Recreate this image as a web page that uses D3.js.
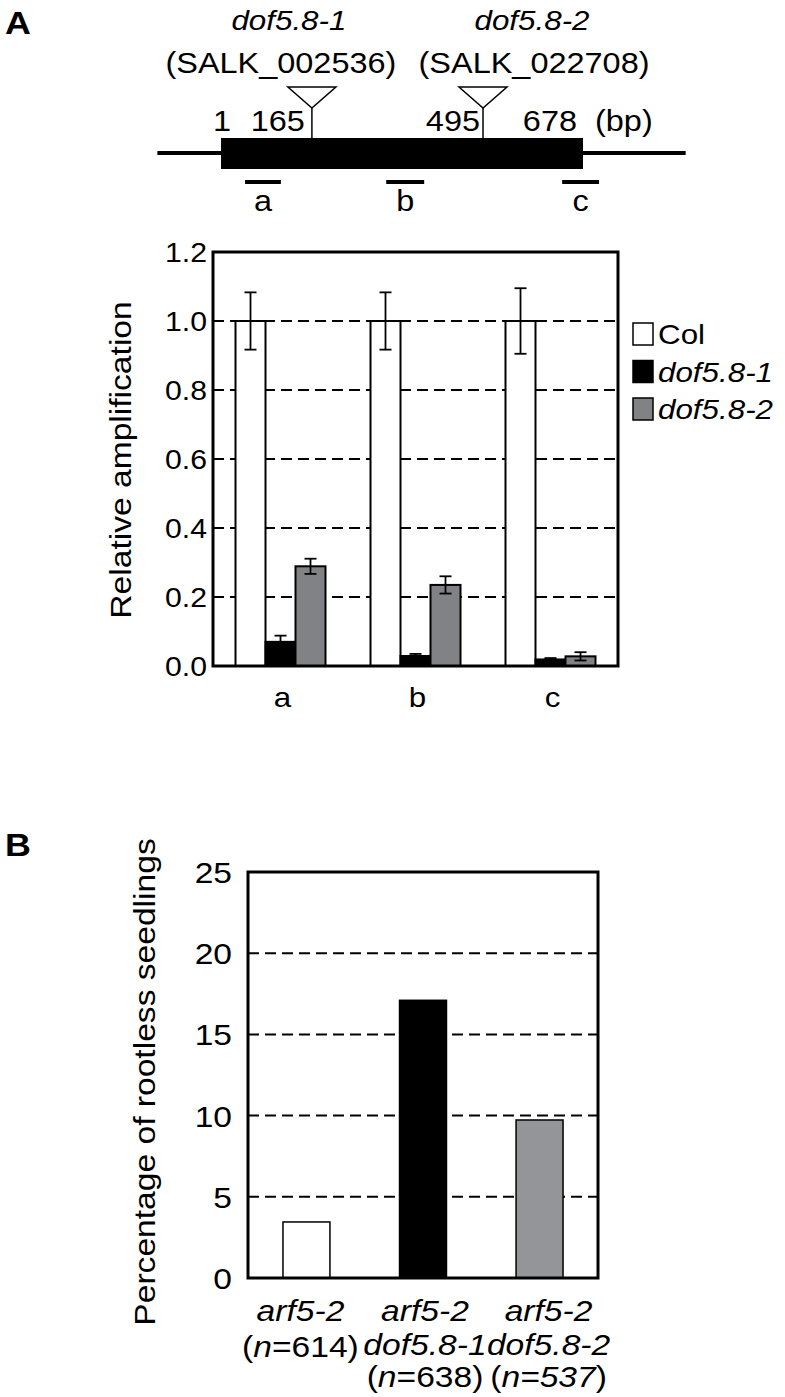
<!DOCTYPE html>
<html>
<head>
<meta charset="utf-8">
<script src="https://d3js.org/d3.v7.min.js"></script>
<style>
  body { margin: 0; background: #fff; }
  svg { display: block; }
  text { font-family: "Liberation Sans", Arial, Helvetica, sans-serif; fill: #000; }
</style>
</head>
<body>
<div id="app"></div>
<script>
// ---- data ----
const primers = ["a", "b", "c"];
const genotypesA = ["Col", "dof5.8-1", "dof5.8-2"];
const colMean = [1.0, 1.0, 1.0];
const colErr = [0.083, 0.083, 0.095];
const dof1Mean = [0.070, 0.029, 0.019];
const dof1Err = [0.018, 0.006, 0.004];
const dof2Mean = [0.289, 0.235, 0.028];
const dof2Err = [0.022, 0.025, 0.012];
const ticksA = [0, 0.2, 0.4, 0.6, 0.8, 1.0, 1.2];

const genotypesB = ["arf5-2", "arf5-2 dof5.8-1", "arf5-2 dof5.8-2"];
const nB = [614, 638, 537];
const rootless = [3.45, 17.1, 9.73];
const ticksB = [0, 5, 10, 15, 20, 25];

// gene model (bp)
const geneStart = 1, geneEnd = 678;
const insertions = [171, 491];
const insertionNames = ["dof5.8-1", "dof5.8-2"];
const insertionLines = ["SALK_002536", "SALK_022708"];
const primerSpans = [[46, 113], [310, 381], [639, 708]];

const colors = { "Col": "#fff", "dof5.8-1": "#000", "dof5.8-2": "#808285" };
const colorsB = ["#fff", "#000", "#939598"];
const SX = 1.12; // glyphs in the figure are a bit wider than Arial

const svg = d3.select("#app").append("svg")
    .attr("width", 785).attr("height", 1397);

// text helper: parts = [[string, italic, bold], ...]
function label(x, y, parts, size, anchor, rotate) {
    const g = svg.append("g")
        .attr("transform", rotate
            ? `translate(${x},${y}) rotate(-90) scale(${SX},1)`
            : `translate(${x},${y}) scale(${SX},1)`);
    const t = g.append("text")
        .attr("font-size", size)
        .attr("text-anchor", anchor || "middle");
    if (typeof parts === "string") parts = [[parts, false]];
    parts.forEach(p => t.append("tspan").text(p[0])
        .attr("font-style", p[1] ? "italic" : "normal")
        .attr("font-weight", p[2] ? "bold" : "normal"));
    return t;
}

// ---- panel letters ----
label(5, 34, [["A", false, true]], 32, "start");
label(5, 856, [["B", false, true]], 32, "start");

// ---- gene model ----
const gx = d3.scaleLinear().domain([geneStart, geneEnd]).range([221, 583]);
svg.append("line").attr("x1", gx(-118)).attr("x2", gx(870))
    .attr("y1", 153).attr("y2", 153).attr("stroke", "#000").attr("stroke-width", 4);
svg.append("rect").attr("x", gx(geneStart)).attr("y", 138)
    .attr("width", gx(geneEnd) - gx(geneStart)).attr("height", 31).attr("fill", "#000");

const nameShift = [-23, 49], lineShift = [-31, 51];
insertions.forEach((bp, i) => {
    const x = gx(bp);
    svg.append("line").attr("x1", x).attr("x2", x).attr("y1", 108).attr("y2", 138)
        .attr("stroke", "#000").attr("stroke-width", 1.5);
    svg.append("path")
        .attr("d", `M${x - 24},87 L${x + 24},87 L${x},108 Z`)
        .attr("fill", "#fff").attr("stroke", "#000").attr("stroke-width", 1.5);
    label(x + nameShift[i], 30, [[insertionNames[i], true]], 28, "middle");
    label(x + lineShift[i], 73, "(" + insertionLines[i] + ")", 29, "middle");
});

label(gx(1) + 1, 131, "1", 29, "middle");
label(gx(insertions[0]) - 7, 131, "165", 29, "end");
label(gx(insertions[1]) - 3, 131, "495", 29, "end");
label(gx(geneEnd) - 6, 131, "678", 29, "end");
label(gx(geneEnd) + 12, 131, "(bp)", 29, "start");

primerSpans.forEach((s, i) => {
    svg.append("line").attr("x1", gx(s[0])).attr("x2", gx(s[1]))
        .attr("y1", 182).attr("y2", 182).attr("stroke", "#000").attr("stroke-width", 4);
    label((gx(s[0]) + gx(s[1])) / 2, 211, primers[i], 29, "middle");
});

// ---- panel A chart ----
const A = { l: 213, r: 618, t: 252, b: 666 };
const yA = d3.scaleLinear().domain([0, 1.2]).range([A.b, A.t]);
const x0 = d3.scaleBand().domain(primers).range([A.l, A.r])
    .paddingInner(1 / 3).paddingOuter(1 / 6);
const x1 = d3.scaleBand().domain(genotypesA).range([0, x0.bandwidth()]);

const gA = svg.append("g");
gA.selectAll("line.grid").data(ticksA.slice(1, -1)).enter().append("line")
    .attr("x1", A.l).attr("x2", A.r)
    .attr("y1", d => yA(d)).attr("y2", d => yA(d))
    .attr("stroke", "#000").attr("stroke-width", 2).attr("stroke-dasharray", "11,6");

const rowsA = primers.map((p, i) => ({
    p, vals: [
        { g: "Col", m: colMean[i], e: colErr[i] },
        { g: "dof5.8-1", m: dof1Mean[i], e: dof1Err[i] },
        { g: "dof5.8-2", m: dof2Mean[i], e: dof2Err[i] }
    ]
}));
const grp = gA.selectAll("g.grp").data(rowsA).enter().append("g")
    .attr("transform", d => `translate(${x0(d.p)},0)`);
grp.selectAll("rect").data(d => d.vals).enter().append("rect")
    .attr("x", d => x1(d.g)).attr("width", x1.bandwidth())
    .attr("y", d => yA(d.m)).attr("height", d => yA(0) - yA(d.m))
    .attr("fill", d => colors[d.g]).attr("stroke", "#000").attr("stroke-width", 2);
const eb = grp.selectAll("g.err").data(d => d.vals).enter().append("g")
    .attr("stroke", "#000").attr("stroke-width", 1.8);
const cxA = d => x1(d.g) + x1.bandwidth() / 2;
eb.append("line").attr("x1", cxA).attr("x2", cxA)
    .attr("y1", d => yA(d.m - d.e)).attr("y2", d => yA(d.m + d.e));
[-1, 1].forEach(s => eb.append("line")
    .attr("x1", d => cxA(d) - 6).attr("x2", d => cxA(d) + 6)
    .attr("y1", d => yA(d.m + s * d.e)).attr("y2", d => yA(d.m + s * d.e)));

gA.append("rect").attr("x", A.l).attr("y", A.t).attr("width", A.r - A.l).attr("height", A.b - A.t)
    .attr("fill", "none").attr("stroke", "#000").attr("stroke-width", 3);

ticksA.forEach(t => label(A.l - 6, yA(t) + 10, d3.format(".1f")(t), 27, "end"));
primers.forEach(p => label(x0(p) + x0.bandwidth() / 2 + 2, 707, p, 28, "middle"));
label(131, 460, "Relative amplification", 30, "middle", true);

// legend
genotypesA.forEach((g, i) => {
    const cy = 334 + i * 37.5;
    svg.append("rect").attr("x", 633).attr("y", cy - 11).attr("width", 20).attr("height", 22)
        .attr("fill", colors[g]).attr("stroke", "#000").attr("stroke-width", 1.5);
    label(658, cy + 10, [[g, i > 0]], 28, "start");
});

// ---- panel B chart ----
const B = { l: 248, r: 598, t: 872, b: 1278 };
const yB = d3.scaleBand ? d3.scaleLinear().domain([0, 25]).range([B.b, B.t]) : null;
const xB = d3.scaleBand().domain(genotypesB).range([B.l, B.r])
    .paddingInner(0.597).paddingOuter(0.3);
const gB = svg.append("g");
gB.selectAll("line.grid").data(ticksB.slice(1, -1)).enter().append("line")
    .attr("x1", B.l).attr("x2", B.r)
    .attr("y1", d => yB(d)).attr("y2", d => yB(d))
    .attr("stroke", "#000").attr("stroke-width", 2).attr("stroke-dasharray", "11,6");
gB.selectAll("rect.bar").data(genotypesB).enter().append("rect")
    .attr("x", d => xB(d)).attr("width", xB.bandwidth())
    .attr("y", (d, i) => yB(rootless[i])).attr("height", (d, i) => yB(0) - yB(rootless[i]))
    .attr("fill", (d, i) => colorsB[i]).attr("stroke", "#000").attr("stroke-width", 1.5);
gB.append("rect").attr("x", B.l).attr("y", B.t).attr("width", B.r - B.l).attr("height", B.b - B.t)
    .attr("fill", "none").attr("stroke", "#000").attr("stroke-width", 3);
ticksB.forEach(t => label(B.l - 16, yB(t) + 11, String(t), 30, "end"));
label(155, 1082, "Percentage of rootless seedlings", 30, "middle", true);

const labelShift = [-6, 2, 9];
genotypesB.forEach((g, i) => {
    const cx = xB(g) + xB.bandwidth() / 2 + labelShift[i];
    const names = g.split(" ");
    names.forEach((nm, j) => label(cx, 1321 + j * 34, [[nm, true]], 30, "middle"));
    const ny = names.length === 1 ? 1357 : 1387;
    label(cx, ny, [["(", false], ["n", true], ["=" + nB[i], i === 2], [")", false]], 30, "middle");
});
</script>
</body>
</html>
